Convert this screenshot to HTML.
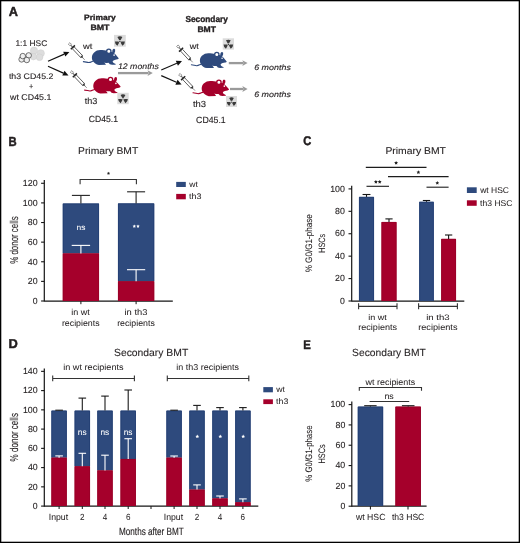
<!DOCTYPE html>
<html><head><meta charset="utf-8"><style>
html,body{margin:0;padding:0;background:#fff;}
svg{display:block;will-change:transform;}
text{font-family:"Liberation Sans", sans-serif;text-rendering:geometricPrecision;}
</style></head><body>
<svg width="520" height="543" viewBox="0 0 520 543">
<rect x="0" y="0" width="520" height="543" fill="#fff"/>
<text x="8.73" y="15.85" font-size="12.97" textLength="9.22" lengthAdjust="spacingAndGlyphs" font-weight="bold" font-style="normal" fill="#231f20" stroke="#231f20" stroke-width="0.5" stroke-linejoin="round">A</text>
<text x="15.43" y="46.00" font-size="8.21" textLength="31.84" lengthAdjust="spacingAndGlyphs" font-weight="normal" font-style="normal" fill="#231f20" stroke="#231f20" stroke-width="0.12" stroke-linejoin="round">1:1 HSC</text>
<circle cx="34" cy="50.6" r="3.6" fill="#dddddd" stroke="#cfcfcf" stroke-width="0.5"/>
<circle cx="40.8" cy="53.3" r="3.6" fill="#dddddd" stroke="#cfcfcf" stroke-width="0.5"/>
<circle cx="39.5" cy="57.2" r="3.4" fill="#dddddd" stroke="#cfcfcf" stroke-width="0.5"/>
<circle cx="33.4" cy="56.6" r="3.3" fill="#dddddd" stroke="#cfcfcf" stroke-width="0.5"/>
<circle cx="21.6" cy="59.4" r="2.75" fill="#efefef" stroke="#505050" stroke-width="0.8"/>
<circle cx="22.8" cy="56.1" r="2.75" fill="#efefef" stroke="#505050" stroke-width="0.8"/>
<circle cx="28.7" cy="55.4" r="2.75" fill="#efefef" stroke="#505050" stroke-width="0.8"/>
<circle cx="26.8" cy="60.0" r="2.75" fill="#efefef" stroke="#505050" stroke-width="0.8"/>
<text x="8.93" y="78.75" font-size="8.07" textLength="44.44" lengthAdjust="spacingAndGlyphs" font-weight="normal" font-style="normal" fill="#231f20" stroke="#231f20" stroke-width="0.12" stroke-linejoin="round">th3 CD45.2</text>
<text x="28.99" y="88.60" font-size="8.20" textLength="4.31" lengthAdjust="spacingAndGlyphs" font-weight="normal" font-style="normal" fill="#231f20" stroke="#231f20" stroke-width="0.12" stroke-linejoin="round">+</text>
<text x="10.06" y="100.00" font-size="8.43" textLength="41.31" lengthAdjust="spacingAndGlyphs" font-weight="normal" font-style="normal" fill="#231f20" stroke="#231f20" stroke-width="0.12" stroke-linejoin="round">wt CD45.1</text>
<line x1="48.00" y1="61.30" x2="64.27" y2="54.15" stroke="#111" stroke-width="1.2"/>
<path d="M69.40,51.90 L65.36,56.62 L63.19,51.68 Z" fill="#111"/>
<line x1="48.00" y1="66.30" x2="63.38" y2="73.13" stroke="#111" stroke-width="1.2"/>
<path d="M68.50,75.40 L62.29,75.60 L64.48,70.66 Z" fill="#111"/>
<text x="84.12" y="19.85" font-size="7.75" textLength="31.54" lengthAdjust="spacingAndGlyphs" font-weight="bold" font-style="normal" fill="#231f20" stroke="#231f20" stroke-width="0.35" stroke-linejoin="round">Primary</text>
<text x="90.40" y="29.85" font-size="7.61" textLength="19.12" lengthAdjust="spacingAndGlyphs" font-weight="bold" font-style="normal" fill="#231f20" stroke="#231f20" stroke-width="0.35" stroke-linejoin="round">BMT</text>
<g transform="translate(68.80,43.10) rotate(46.41) scale(1.048)" stroke="#333" fill="none">
<rect x="0.4" y="-1.0" width="2.2" height="2.0" stroke="#777" stroke-width="0.7"/>
<line x1="2.6" y1="0" x2="5.2" y2="0" stroke-width="1.0" stroke="#666"/>
<line x1="5.6" y1="-2.7" x2="5.6" y2="2.7" stroke-width="1.4" stroke="#222"/>
<rect x="6.3" y="-1.25" width="11.2" height="2.5" stroke-width="0.65" stroke="#222" fill="#fff"/>
<path d="M17.5,-1.25 L19.2,0 L17.5,1.25 Z" fill="#222" stroke-width="0.4"/>
<line x1="19.2" y1="0" x2="22" y2="0" stroke-width="0.5"/>
</g>
<g transform="translate(70.80,71.10) rotate(46.41) scale(1.048)" stroke="#333" fill="none">
<rect x="0.4" y="-1.0" width="2.2" height="2.0" stroke="#777" stroke-width="0.7"/>
<line x1="2.6" y1="0" x2="5.2" y2="0" stroke-width="1.0" stroke="#666"/>
<line x1="5.6" y1="-2.7" x2="5.6" y2="2.7" stroke-width="1.4" stroke="#222"/>
<rect x="6.3" y="-1.25" width="11.2" height="2.5" stroke-width="0.65" stroke="#222" fill="#fff"/>
<path d="M17.5,-1.25 L19.2,0 L17.5,1.25 Z" fill="#222" stroke-width="0.4"/>
<line x1="19.2" y1="0" x2="22" y2="0" stroke-width="0.5"/>
</g>
<text x="83.06" y="48.75" font-size="8.00" textLength="9.37" lengthAdjust="spacingAndGlyphs" font-weight="normal" font-style="normal" fill="#231f20" stroke="#231f20" stroke-width="0.12" stroke-linejoin="round">wt</text>
<text x="84.72" y="103.70" font-size="8.90" textLength="12.58" lengthAdjust="spacingAndGlyphs" font-weight="normal" font-style="normal" fill="#231f20" stroke="#231f20" stroke-width="0.12" stroke-linejoin="round">th3</text>
<g transform="translate(83.40,48.45) scale(1.0)">
<path d="M10,12.6 C8.6,12.8 7.4,14.0 5.4,14.1 C3.6,14.2 2.2,13.2 0,13.2" fill="none" stroke="#2e4a7d" stroke-width="1.1" stroke-linecap="round"/>
<path d="M9.4,12.3 C8.2,10.5 8.0,6.5 10.5,4.2 C12.5,2.3 14.5,1.6 16.8,1.6 C19.5,1.6 22,2.0 24,2.6 L29,3.6 C31,4.5 33.5,7.5 35.3,9.8 C35.2,10.6 34.5,10.9 33.8,10.9 L31.2,11.5 C29.8,12 29.2,12.6 29.3,13.3 C29.8,14.3 30.6,15 32.4,15.6 L32.0,16.2 L28.6,16.3 L26.4,15.8 C25.8,15 25.4,14.6 25.0,14.4 C23.8,14.5 22.5,14.4 21.3,14.2 L20.6,13.7 C21.3,14.6 22.2,15.5 22.6,16.3 L15.5,16.5 C12.8,16 10.5,14.6 9.4,12.3 Z" fill="#2e4a7d"/>
<circle cx="25.4" cy="2.9" r="2.15" fill="#fff" stroke="#2e4a7d" stroke-width="1.3"/>
<ellipse cx="30.3" cy="2.7" rx="1.45" ry="2.4" transform="rotate(12 30.3 2.7)" fill="#2e4a7d"/>
<circle cx="30.7" cy="6.7" r="0.8" fill="#fff"/>
</g>
<g transform="translate(84.60,76.60) scale(1.02)">
<path d="M10,12.6 C8.6,12.8 7.4,14.0 5.4,14.1 C3.6,14.2 2.2,13.2 0,13.2" fill="none" stroke="#a5002b" stroke-width="1.1" stroke-linecap="round"/>
<path d="M9.4,12.3 C8.2,10.5 8.0,6.5 10.5,4.2 C12.5,2.3 14.5,1.6 16.8,1.6 C19.5,1.6 22,2.0 24,2.6 L29,3.6 C31,4.5 33.5,7.5 35.3,9.8 C35.2,10.6 34.5,10.9 33.8,10.9 L31.2,11.5 C29.8,12 29.2,12.6 29.3,13.3 C29.8,14.3 30.6,15 32.4,15.6 L32.0,16.2 L28.6,16.3 L26.4,15.8 C25.8,15 25.4,14.6 25.0,14.4 C23.8,14.5 22.5,14.4 21.3,14.2 L20.6,13.7 C21.3,14.6 22.2,15.5 22.6,16.3 L15.5,16.5 C12.8,16 10.5,14.6 9.4,12.3 Z" fill="#a5002b"/>
<circle cx="25.4" cy="2.9" r="2.15" fill="#fff" stroke="#a5002b" stroke-width="1.3"/>
<ellipse cx="30.3" cy="2.7" rx="1.45" ry="2.4" transform="rotate(12 30.3 2.7)" fill="#a5002b"/>
<circle cx="30.7" cy="6.7" r="0.8" fill="#fff"/>
</g>
<rect x="114.00" y="34.90" width="11.80" height="11.80" fill="#dcdcdc"/>
<path d="M119.25,40.26 L117.40,37.06 A5.00,5.00 0 0 1 122.40,37.06 L120.55,40.26 A1.30,1.30 0 0 0 119.25,40.26 Z" fill="#3a3a3a"/>
<path d="M121.20,41.39 L124.90,41.39 A5.00,5.00 0 0 1 122.40,45.72 L120.55,42.52 A1.30,1.30 0 0 0 121.20,41.39 Z" fill="#3a3a3a"/>
<path d="M119.25,42.52 L117.40,45.72 A5.00,5.00 0 0 1 114.90,41.39 L118.60,41.39 A1.30,1.30 0 0 0 119.25,42.52 Z" fill="#3a3a3a"/>
<circle cx="119.90" cy="41.39" r="0.70" fill="#3a3a3a"/>
<rect x="117.30" y="92.80" width="11.40" height="11.40" fill="#dcdcdc"/>
<path d="M122.37,97.98 L120.58,94.89 A4.83,4.83 0 0 1 125.42,94.89 L123.63,97.98 A1.26,1.26 0 0 0 122.37,97.98 Z" fill="#3a3a3a"/>
<path d="M124.26,99.07 L127.83,99.07 A4.83,4.83 0 0 1 125.42,103.25 L123.63,100.16 A1.26,1.26 0 0 0 124.26,99.07 Z" fill="#3a3a3a"/>
<path d="M122.37,100.16 L120.58,103.25 A4.83,4.83 0 0 1 118.17,99.07 L121.74,99.07 A1.26,1.26 0 0 0 122.37,100.16 Z" fill="#3a3a3a"/>
<circle cx="123.00" cy="99.07" r="0.68" fill="#3a3a3a"/>
<text x="88.83" y="122.30" font-size="8.86" textLength="29.20" lengthAdjust="spacingAndGlyphs" font-weight="normal" font-style="normal" fill="#231f20" stroke="#231f20" stroke-width="0.12" stroke-linejoin="round">CD45.1</text>
<text x="117.94" y="69.00" font-size="8.14" textLength="40.92" lengthAdjust="spacingAndGlyphs" font-weight="normal" font-style="italic" fill="#231f20" stroke="#231f20" stroke-width="0.12" stroke-linejoin="round">12 months</text>
<line x1="118.00" y1="73.10" x2="148.50" y2="73.10" stroke="#9a9a9a" stroke-width="2.3"/>
<path d="M152.8,73.1 L147.5,70.2 L148.8,73.1 L147.5,76 Z" fill="#9a9a9a"/>
<line x1="161.25" y1="70.00" x2="176.86" y2="63.23" stroke="#111" stroke-width="1.2"/>
<path d="M182.00,61.00 L177.94,65.71 L175.79,60.75 Z" fill="#111"/>
<line x1="161.25" y1="75.60" x2="176.46" y2="82.18" stroke="#111" stroke-width="1.2"/>
<path d="M181.60,84.40 L175.39,84.66 L177.53,79.70 Z" fill="#111"/>
<text x="185.43" y="22.40" font-size="8.70" textLength="42.47" lengthAdjust="spacingAndGlyphs" font-weight="bold" font-style="normal" fill="#231f20" stroke="#231f20" stroke-width="0.35" stroke-linejoin="round">Secondary</text>
<text x="197.42" y="32.40" font-size="7.97" textLength="18.50" lengthAdjust="spacingAndGlyphs" font-weight="bold" font-style="normal" fill="#231f20" stroke="#231f20" stroke-width="0.35" stroke-linejoin="round">BMT</text>
<g transform="translate(177.10,45.40) rotate(47.29) scale(1.045)" stroke="#333" fill="none">
<rect x="0.4" y="-1.0" width="2.2" height="2.0" stroke="#777" stroke-width="0.7"/>
<line x1="2.6" y1="0" x2="5.2" y2="0" stroke-width="1.0" stroke="#666"/>
<line x1="5.6" y1="-2.7" x2="5.6" y2="2.7" stroke-width="1.4" stroke="#222"/>
<rect x="6.3" y="-1.25" width="11.2" height="2.5" stroke-width="0.65" stroke="#222" fill="#fff"/>
<path d="M17.5,-1.25 L19.2,0 L17.5,1.25 Z" fill="#222" stroke-width="0.4"/>
<line x1="19.2" y1="0" x2="22" y2="0" stroke-width="0.5"/>
</g>
<g transform="translate(179.10,73.90) rotate(46.41) scale(1.048)" stroke="#333" fill="none">
<rect x="0.4" y="-1.0" width="2.2" height="2.0" stroke="#777" stroke-width="0.7"/>
<line x1="2.6" y1="0" x2="5.2" y2="0" stroke-width="1.0" stroke="#666"/>
<line x1="5.6" y1="-2.7" x2="5.6" y2="2.7" stroke-width="1.4" stroke="#222"/>
<rect x="6.3" y="-1.25" width="11.2" height="2.5" stroke-width="0.65" stroke="#222" fill="#fff"/>
<path d="M17.5,-1.25 L19.2,0 L17.5,1.25 Z" fill="#222" stroke-width="0.4"/>
<line x1="19.2" y1="0" x2="22" y2="0" stroke-width="0.5"/>
</g>
<text x="189.81" y="48.75" font-size="8.20" textLength="8.97" lengthAdjust="spacingAndGlyphs" font-weight="normal" font-style="normal" fill="#231f20" stroke="#231f20" stroke-width="0.12" stroke-linejoin="round">wt</text>
<text x="192.92" y="106.80" font-size="8.90" textLength="13.10" lengthAdjust="spacingAndGlyphs" font-weight="normal" font-style="normal" fill="#231f20" stroke="#231f20" stroke-width="0.12" stroke-linejoin="round">th3</text>
<g transform="translate(191.40,51.60) scale(1.0)">
<path d="M10,12.6 C8.6,12.8 7.4,14.0 5.4,14.1 C3.6,14.2 2.2,13.2 0,13.2" fill="none" stroke="#2e4a7d" stroke-width="1.1" stroke-linecap="round"/>
<path d="M9.4,12.3 C8.2,10.5 8.0,6.5 10.5,4.2 C12.5,2.3 14.5,1.6 16.8,1.6 C19.5,1.6 22,2.0 24,2.6 L29,3.6 C31,4.5 33.5,7.5 35.3,9.8 C35.2,10.6 34.5,10.9 33.8,10.9 L31.2,11.5 C29.8,12 29.2,12.6 29.3,13.3 C29.8,14.3 30.6,15 32.4,15.6 L32.0,16.2 L28.6,16.3 L26.4,15.8 C25.8,15 25.4,14.6 25.0,14.4 C23.8,14.5 22.5,14.4 21.3,14.2 L20.6,13.7 C21.3,14.6 22.2,15.5 22.6,16.3 L15.5,16.5 C12.8,16 10.5,14.6 9.4,12.3 Z" fill="#2e4a7d"/>
<circle cx="25.4" cy="2.9" r="2.15" fill="#fff" stroke="#2e4a7d" stroke-width="1.3"/>
<ellipse cx="30.3" cy="2.7" rx="1.45" ry="2.4" transform="rotate(12 30.3 2.7)" fill="#2e4a7d"/>
<circle cx="30.7" cy="6.7" r="0.8" fill="#fff"/>
</g>
<g transform="translate(193.00,79.30) scale(1.02)">
<path d="M10,12.6 C8.6,12.8 7.4,14.0 5.4,14.1 C3.6,14.2 2.2,13.2 0,13.2" fill="none" stroke="#a5002b" stroke-width="1.1" stroke-linecap="round"/>
<path d="M9.4,12.3 C8.2,10.5 8.0,6.5 10.5,4.2 C12.5,2.3 14.5,1.6 16.8,1.6 C19.5,1.6 22,2.0 24,2.6 L29,3.6 C31,4.5 33.5,7.5 35.3,9.8 C35.2,10.6 34.5,10.9 33.8,10.9 L31.2,11.5 C29.8,12 29.2,12.6 29.3,13.3 C29.8,14.3 30.6,15 32.4,15.6 L32.0,16.2 L28.6,16.3 L26.4,15.8 C25.8,15 25.4,14.6 25.0,14.4 C23.8,14.5 22.5,14.4 21.3,14.2 L20.6,13.7 C21.3,14.6 22.2,15.5 22.6,16.3 L15.5,16.5 C12.8,16 10.5,14.6 9.4,12.3 Z" fill="#a5002b"/>
<circle cx="25.4" cy="2.9" r="2.15" fill="#fff" stroke="#a5002b" stroke-width="1.3"/>
<ellipse cx="30.3" cy="2.7" rx="1.45" ry="2.4" transform="rotate(12 30.3 2.7)" fill="#a5002b"/>
<circle cx="30.7" cy="6.7" r="0.8" fill="#fff"/>
</g>
<rect x="222.70" y="38.30" width="11.30" height="11.30" fill="#dcdcdc"/>
<path d="M227.73,43.44 L225.96,40.37 A4.79,4.79 0 0 1 230.74,40.37 L228.97,43.44 A1.24,1.24 0 0 0 227.73,43.44 Z" fill="#3a3a3a"/>
<path d="M229.59,44.52 L233.14,44.52 A4.79,4.79 0 0 1 230.74,48.66 L228.97,45.59 A1.24,1.24 0 0 0 229.59,44.52 Z" fill="#3a3a3a"/>
<path d="M227.73,45.59 L225.96,48.66 A4.79,4.79 0 0 1 223.56,44.52 L227.11,44.52 A1.24,1.24 0 0 0 227.73,45.59 Z" fill="#3a3a3a"/>
<circle cx="228.35" cy="44.52" r="0.67" fill="#3a3a3a"/>
<rect x="226.00" y="96.00" width="11.00" height="11.00" fill="#dcdcdc"/>
<path d="M230.89,101.00 L229.17,98.01 A4.66,4.66 0 0 1 233.83,98.01 L232.11,101.00 A1.21,1.21 0 0 0 230.89,101.00 Z" fill="#3a3a3a"/>
<path d="M232.71,102.05 L236.16,102.05 A4.66,4.66 0 0 1 233.83,106.09 L232.11,103.10 A1.21,1.21 0 0 0 232.71,102.05 Z" fill="#3a3a3a"/>
<path d="M230.89,103.10 L229.17,106.09 A4.66,4.66 0 0 1 226.84,102.05 L230.29,102.05 A1.21,1.21 0 0 0 230.89,103.10 Z" fill="#3a3a3a"/>
<circle cx="231.50" cy="102.05" r="0.65" fill="#3a3a3a"/>
<text x="196.12" y="122.70" font-size="9.00" textLength="29.62" lengthAdjust="spacingAndGlyphs" font-weight="normal" font-style="normal" fill="#231f20" stroke="#231f20" stroke-width="0.12" stroke-linejoin="round">CD45.1</text>
<line x1="228.80" y1="63.10" x2="243.50" y2="63.10" stroke="#9a9a9a" stroke-width="2.3"/>
<path d="M247.6,63.1 L242.3,60.2 L243.6,63.1 L242.3,66.0 Z" fill="#9a9a9a"/>
<line x1="230.00" y1="89.00" x2="243.50" y2="89.00" stroke="#9a9a9a" stroke-width="2.3"/>
<path d="M247.6,89.0 L242.3,86.1 L243.6,89.0 L242.3,91.9 Z" fill="#9a9a9a"/>
<text x="254.17" y="70.00" font-size="7.72" textLength="36.74" lengthAdjust="spacingAndGlyphs" font-weight="normal" font-style="italic" fill="#231f20" stroke="#231f20" stroke-width="0.12" stroke-linejoin="round">6 months</text>
<text x="254.17" y="96.50" font-size="7.72" textLength="36.74" lengthAdjust="spacingAndGlyphs" font-weight="normal" font-style="italic" fill="#231f20" stroke="#231f20" stroke-width="0.12" stroke-linejoin="round">6 months</text>
<text x="8.51" y="145.90" font-size="13.04" textLength="8.17" lengthAdjust="spacingAndGlyphs" font-weight="bold" font-style="normal" fill="#231f20" stroke="#231f20" stroke-width="0.5" stroke-linejoin="round">B</text>
<text x="78.02" y="153.90" font-size="9.71" textLength="60.27" lengthAdjust="spacingAndGlyphs" font-weight="normal" font-style="normal" fill="#231f20" stroke="#231f20" stroke-width="0.1" stroke-linejoin="round">Primary BMT</text>
<line x1="44.30" y1="180.00" x2="44.30" y2="301.60" stroke="#141414" stroke-width="1.2"/>
<line x1="41.10" y1="301.00" x2="44.30" y2="301.00" stroke="#141414" stroke-width="1.1"/>
<text x="32.73" y="303.75" font-size="8.90" textLength="4.83" lengthAdjust="spacingAndGlyphs" font-weight="normal" font-style="normal" fill="#231f20" stroke="#231f20" stroke-width="0.1" stroke-linejoin="round">0</text>
<line x1="41.10" y1="281.38" x2="44.30" y2="281.38" stroke="#141414" stroke-width="1.1"/>
<text x="27.79" y="284.13" font-size="8.90" textLength="9.79" lengthAdjust="spacingAndGlyphs" font-weight="normal" font-style="normal" fill="#231f20" stroke="#231f20" stroke-width="0.1" stroke-linejoin="round">20</text>
<line x1="41.10" y1="261.76" x2="44.30" y2="261.76" stroke="#141414" stroke-width="1.1"/>
<text x="27.78" y="264.51" font-size="8.90" textLength="9.79" lengthAdjust="spacingAndGlyphs" font-weight="normal" font-style="normal" fill="#231f20" stroke="#231f20" stroke-width="0.1" stroke-linejoin="round">40</text>
<line x1="41.10" y1="242.14" x2="44.30" y2="242.14" stroke="#141414" stroke-width="1.1"/>
<text x="27.79" y="244.89" font-size="8.90" textLength="9.79" lengthAdjust="spacingAndGlyphs" font-weight="normal" font-style="normal" fill="#231f20" stroke="#231f20" stroke-width="0.1" stroke-linejoin="round">60</text>
<line x1="41.10" y1="222.52" x2="44.30" y2="222.52" stroke="#141414" stroke-width="1.1"/>
<text x="27.79" y="225.27" font-size="8.90" textLength="9.79" lengthAdjust="spacingAndGlyphs" font-weight="normal" font-style="normal" fill="#231f20" stroke="#231f20" stroke-width="0.1" stroke-linejoin="round">80</text>
<line x1="41.10" y1="202.90" x2="44.30" y2="202.90" stroke="#141414" stroke-width="1.1"/>
<text x="22.85" y="205.65" font-size="8.90" textLength="14.74" lengthAdjust="spacingAndGlyphs" font-weight="normal" font-style="normal" fill="#231f20" stroke="#231f20" stroke-width="0.1" stroke-linejoin="round">100</text>
<line x1="41.10" y1="183.28" x2="44.30" y2="183.28" stroke="#141414" stroke-width="1.1"/>
<text x="22.85" y="186.03" font-size="8.90" textLength="14.74" lengthAdjust="spacingAndGlyphs" font-weight="normal" font-style="normal" fill="#231f20" stroke="#231f20" stroke-width="0.1" stroke-linejoin="round">120</text>
<line x1="44.30" y1="301.20" x2="172.80" y2="301.20" stroke="#141414" stroke-width="1.2"/>
<line x1="80.90" y1="301.20" x2="80.90" y2="304.20" stroke="#141414" stroke-width="1.0"/>
<line x1="136.10" y1="301.20" x2="136.10" y2="304.20" stroke="#141414" stroke-width="1.0"/>
<rect x="62.80" y="203.50" width="36.20" height="49.90" fill="#2e4a7d"/>
<path d="M63.20,253.40 L63.20,203.90 L98.60,203.90 L98.60,253.40" fill="none" stroke="#223d72" stroke-width="0.8"/>
<rect x="62.80" y="253.40" width="36.20" height="47.60" fill="#a5002b"/>
<path d="M63.20,301.00 L63.20,253.80 L98.60,253.80 L98.60,301.00" fill="none" stroke="#970027" stroke-width="0.8"/>
<rect x="118.00" y="203.40" width="36.20" height="77.80" fill="#2e4a7d"/>
<path d="M118.40,281.20 L118.40,203.80 L153.80,203.80 L153.80,281.20" fill="none" stroke="#223d72" stroke-width="0.8"/>
<rect x="118.00" y="281.20" width="36.20" height="19.80" fill="#a5002b"/>
<path d="M118.40,301.00 L118.40,281.60 L153.80,281.60 L153.80,301.00" fill="none" stroke="#970027" stroke-width="0.8"/>
<line x1="80.90" y1="195.40" x2="80.90" y2="203.50" stroke="#222" stroke-width="1.1"/>
<line x1="71.90" y1="195.40" x2="89.90" y2="195.40" stroke="#222" stroke-width="1.1"/>
<line x1="136.10" y1="191.80" x2="136.10" y2="203.40" stroke="#222" stroke-width="1.1"/>
<line x1="127.10" y1="191.80" x2="145.10" y2="191.80" stroke="#222" stroke-width="1.1"/>
<line x1="80.90" y1="245.40" x2="80.90" y2="253.40" stroke="#fff" stroke-width="1.1"/>
<line x1="71.70" y1="245.40" x2="90.10" y2="245.40" stroke="#fff" stroke-width="1.1"/>
<line x1="136.10" y1="269.70" x2="136.10" y2="281.20" stroke="#fff" stroke-width="1.1"/>
<line x1="127.00" y1="269.70" x2="145.20" y2="269.70" stroke="#fff" stroke-width="1.1"/>
<path d="M80.1,184.2 L80.1,179.5 L136.4,179.5 L136.4,184.2" fill="none" stroke="#333" stroke-width="1.1"/>
<polygon points="108.50,171.70 109.00,172.71 110.12,172.87 109.31,173.66 109.50,174.78 108.50,174.25 107.50,174.78 107.69,173.66 106.88,172.87 108.00,172.71" fill="#222"/>
<text x="76.47" y="230.40" font-size="7.80" textLength="8.91" lengthAdjust="spacingAndGlyphs" font-weight="normal" font-style="normal" fill="#fff" stroke="#fff" stroke-width="0.04" stroke-linejoin="round">ns</text>
<polygon points="134.30,224.50 134.83,225.57 136.01,225.74 135.16,226.58 135.36,227.76 134.30,227.20 133.24,227.76 133.44,226.58 132.59,225.74 133.77,225.57" fill="#fff"/>
<polygon points="138.00,224.50 138.53,225.57 139.71,225.74 138.86,226.58 139.06,227.76 138.00,227.20 136.94,227.76 137.14,226.58 136.29,225.74 137.47,225.57" fill="#fff"/>
<rect x="176.20" y="181.90" width="9.60" height="5.10" fill="#2e4a7d"/>
<rect x="176.20" y="193.90" width="9.60" height="5.40" fill="#a5002b"/>
<text x="189.22" y="187.00" font-size="8.20" textLength="8.55" lengthAdjust="spacingAndGlyphs" font-weight="normal" font-style="normal" fill="#231f20" stroke="#231f20" stroke-width="0.04" stroke-linejoin="round">wt</text>
<text x="189.09" y="199.30" font-size="8.20" textLength="12.45" lengthAdjust="spacingAndGlyphs" font-weight="normal" font-style="normal" fill="#231f20" stroke="#231f20" stroke-width="0.04" stroke-linejoin="round">th3</text>
<text transform="translate(17.50,263.55) rotate(-90)" x="-0.28" y="0" font-size="11.30" textLength="47.54" lengthAdjust="spacingAndGlyphs" font-weight="normal" font-style="normal" fill="#231f20" stroke="#231f20" stroke-width="0.1" stroke-linejoin="round">% donor cells</text>
<text x="71.39" y="315.00" font-size="8.55" textLength="18.50" lengthAdjust="spacingAndGlyphs" font-weight="normal" font-style="normal" fill="#231f20" stroke="#231f20" stroke-width="0.04" stroke-linejoin="round">in wt</text>
<text x="61.95" y="325.60" font-size="8.60" textLength="37.64" lengthAdjust="spacingAndGlyphs" font-weight="normal" font-style="normal" fill="#231f20" stroke="#231f20" stroke-width="0.04" stroke-linejoin="round">recipients</text>
<text x="124.56" y="315.00" font-size="8.55" textLength="22.85" lengthAdjust="spacingAndGlyphs" font-weight="normal" font-style="normal" fill="#231f20" stroke="#231f20" stroke-width="0.04" stroke-linejoin="round">in th3</text>
<text x="117.15" y="325.60" font-size="8.60" textLength="37.64" lengthAdjust="spacingAndGlyphs" font-weight="normal" font-style="normal" fill="#231f20" stroke="#231f20" stroke-width="0.04" stroke-linejoin="round">recipients</text>
<text x="303.30" y="144.90" font-size="12.61" textLength="8.05" lengthAdjust="spacingAndGlyphs" font-weight="bold" font-style="normal" fill="#231f20" stroke="#231f20" stroke-width="0.5" stroke-linejoin="round">C</text>
<text x="385.42" y="153.90" font-size="9.71" textLength="60.57" lengthAdjust="spacingAndGlyphs" font-weight="normal" font-style="normal" fill="#231f20" stroke="#231f20" stroke-width="0.1" stroke-linejoin="round">Primary BMT</text>
<line x1="351.70" y1="185.80" x2="351.70" y2="301.50" stroke="#141414" stroke-width="1.2"/>
<line x1="348.50" y1="301.00" x2="351.70" y2="301.00" stroke="#141414" stroke-width="1.1"/>
<text x="340.03" y="303.75" font-size="8.90" textLength="4.83" lengthAdjust="spacingAndGlyphs" font-weight="normal" font-style="normal" fill="#231f20" stroke="#231f20" stroke-width="0.1" stroke-linejoin="round">0</text>
<line x1="348.50" y1="278.58" x2="351.70" y2="278.58" stroke="#141414" stroke-width="1.1"/>
<text x="335.09" y="281.33" font-size="8.90" textLength="9.79" lengthAdjust="spacingAndGlyphs" font-weight="normal" font-style="normal" fill="#231f20" stroke="#231f20" stroke-width="0.1" stroke-linejoin="round">20</text>
<line x1="348.50" y1="256.16" x2="351.70" y2="256.16" stroke="#141414" stroke-width="1.1"/>
<text x="335.08" y="258.91" font-size="8.90" textLength="9.79" lengthAdjust="spacingAndGlyphs" font-weight="normal" font-style="normal" fill="#231f20" stroke="#231f20" stroke-width="0.1" stroke-linejoin="round">40</text>
<line x1="348.50" y1="233.74" x2="351.70" y2="233.74" stroke="#141414" stroke-width="1.1"/>
<text x="335.09" y="236.49" font-size="8.90" textLength="9.79" lengthAdjust="spacingAndGlyphs" font-weight="normal" font-style="normal" fill="#231f20" stroke="#231f20" stroke-width="0.1" stroke-linejoin="round">60</text>
<line x1="348.50" y1="211.32" x2="351.70" y2="211.32" stroke="#141414" stroke-width="1.1"/>
<text x="335.09" y="214.07" font-size="8.90" textLength="9.79" lengthAdjust="spacingAndGlyphs" font-weight="normal" font-style="normal" fill="#231f20" stroke="#231f20" stroke-width="0.1" stroke-linejoin="round">80</text>
<line x1="348.50" y1="188.90" x2="351.70" y2="188.90" stroke="#141414" stroke-width="1.1"/>
<text x="330.15" y="191.65" font-size="8.90" textLength="14.74" lengthAdjust="spacingAndGlyphs" font-weight="normal" font-style="normal" fill="#231f20" stroke="#231f20" stroke-width="0.1" stroke-linejoin="round">100</text>
<line x1="351.70" y1="301.20" x2="464.30" y2="301.20" stroke="#141414" stroke-width="1.2"/>
<rect x="359.00" y="196.90" width="15.00" height="104.10" fill="#2e4a7d"/>
<path d="M359.40,301.00 L359.40,197.30 L373.60,197.30 L373.60,301.00" fill="none" stroke="#223d72" stroke-width="0.8"/>
<line x1="366.50" y1="194.50" x2="366.50" y2="196.90" stroke="#151515" stroke-width="1.1"/>
<line x1="362.55" y1="194.50" x2="370.45" y2="194.50" stroke="#151515" stroke-width="1.1"/>
<rect x="381.50" y="222.00" width="15.00" height="79.00" fill="#a5002b"/>
<path d="M381.90,301.00 L381.90,222.40 L396.10,222.40 L396.10,301.00" fill="none" stroke="#970027" stroke-width="0.8"/>
<line x1="389.00" y1="218.90" x2="389.00" y2="222.00" stroke="#151515" stroke-width="1.1"/>
<line x1="385.40" y1="218.90" x2="392.60" y2="218.90" stroke="#151515" stroke-width="1.1"/>
<rect x="419.20" y="201.80" width="14.60" height="99.20" fill="#2e4a7d"/>
<path d="M419.60,301.00 L419.60,202.20 L433.40,202.20 L433.40,301.00" fill="none" stroke="#223d72" stroke-width="0.8"/>
<line x1="426.50" y1="200.50" x2="426.50" y2="201.80" stroke="#151515" stroke-width="1.1"/>
<line x1="422.85" y1="200.50" x2="430.15" y2="200.50" stroke="#151515" stroke-width="1.1"/>
<rect x="441.20" y="238.90" width="14.80" height="62.10" fill="#a5002b"/>
<path d="M441.60,301.00 L441.60,239.30 L455.60,239.30 L455.60,301.00" fill="none" stroke="#970027" stroke-width="0.8"/>
<line x1="448.60" y1="235.00" x2="448.60" y2="238.90" stroke="#151515" stroke-width="1.1"/>
<line x1="444.95" y1="235.00" x2="452.25" y2="235.00" stroke="#151515" stroke-width="1.1"/>
<line x1="365.80" y1="167.40" x2="426.50" y2="167.40" stroke="#1c1c1c" stroke-width="1.1"/>
<polygon points="396.10,160.90 396.69,162.09 398.00,162.28 397.05,163.21 397.28,164.52 396.10,163.90 394.92,164.52 395.15,163.21 394.20,162.28 395.51,162.09" fill="#222"/>
<line x1="388.00" y1="176.60" x2="448.60" y2="176.60" stroke="#1c1c1c" stroke-width="1.1"/>
<polygon points="418.40,170.30 418.99,171.49 420.30,171.68 419.35,172.61 419.58,173.92 418.40,173.30 417.22,173.92 417.45,172.61 416.50,171.68 417.81,171.49" fill="#222"/>
<line x1="366.50" y1="186.30" x2="389.00" y2="186.30" stroke="#1c1c1c" stroke-width="1.1"/>
<polygon points="375.90,179.90 376.49,181.09 377.80,181.28 376.85,182.21 377.08,183.52 375.90,182.90 374.72,183.52 374.95,182.21 374.00,181.28 375.31,181.09" fill="#222"/>
<polygon points="379.70,179.90 380.29,181.09 381.60,181.28 380.65,182.21 380.88,183.52 379.70,182.90 378.52,183.52 378.75,182.21 377.80,181.28 379.11,181.09" fill="#222"/>
<line x1="426.50" y1="187.20" x2="448.60" y2="187.20" stroke="#1c1c1c" stroke-width="1.1"/>
<polygon points="437.30,181.00 437.89,182.19 439.20,182.38 438.25,183.31 438.48,184.62 437.30,184.00 436.12,184.62 436.35,183.31 435.40,182.38 436.71,182.19" fill="#222"/>
<rect x="466.90" y="187.30" width="9.80" height="5.70" fill="#2e4a7d"/>
<rect x="466.90" y="200.30" width="9.80" height="5.50" fill="#a5002b"/>
<text x="480.22" y="193.00" font-size="8.40" textLength="28.79" lengthAdjust="spacingAndGlyphs" font-weight="normal" font-style="normal" fill="#231f20" stroke="#231f20" stroke-width="0.04" stroke-linejoin="round">wt HSC</text>
<text x="480.09" y="205.80" font-size="8.40" textLength="32.43" lengthAdjust="spacingAndGlyphs" font-weight="normal" font-style="normal" fill="#231f20" stroke="#231f20" stroke-width="0.04" stroke-linejoin="round">th3 HSC</text>
<text transform="translate(312.00,272.06) rotate(-90)" x="-0.28" y="0" font-size="9.42" textLength="58.07" lengthAdjust="spacingAndGlyphs" font-weight="normal" font-style="normal" fill="#231f20" stroke="#231f20" stroke-width="0.08" stroke-linejoin="round">% G0/G1-phase</text>
<text transform="translate(324.50,252.16) rotate(-90)" x="-0.58" y="0" font-size="9.13" textLength="18.97" lengthAdjust="spacingAndGlyphs" font-weight="normal" font-style="normal" fill="#231f20" stroke="#231f20" stroke-width="0.08" stroke-linejoin="round">HSCs</text>
<path d="M358.6,303.3 L358.6,309.3 M358.6,306.4 L397.0,306.4 M397.0,303.3 L397.0,309.3" fill="none" stroke="#333" stroke-width="1.1"/>
<path d="M418.6,303.3 L418.6,309.3 M418.6,306.4 L457.4,306.4 M457.4,303.3 L457.4,309.3" fill="none" stroke="#333" stroke-width="1.1"/>
<text x="368.23" y="319.90" font-size="7.86" textLength="18.60" lengthAdjust="spacingAndGlyphs" font-weight="normal" font-style="normal" fill="#231f20" stroke="#231f20" stroke-width="0.04" stroke-linejoin="round">in wt</text>
<text x="358.23" y="330.20" font-size="8.50" textLength="38.87" lengthAdjust="spacingAndGlyphs" font-weight="normal" font-style="normal" fill="#231f20" stroke="#231f20" stroke-width="0.04" stroke-linejoin="round">recipients</text>
<text x="426.20" y="319.90" font-size="7.86" textLength="23.38" lengthAdjust="spacingAndGlyphs" font-weight="normal" font-style="normal" fill="#231f20" stroke="#231f20" stroke-width="0.04" stroke-linejoin="round">in th3</text>
<text x="418.17" y="330.20" font-size="8.50" textLength="39.38" lengthAdjust="spacingAndGlyphs" font-weight="normal" font-style="normal" fill="#231f20" stroke="#231f20" stroke-width="0.04" stroke-linejoin="round">recipients</text>
<text x="8.52" y="348.20" font-size="12.90" textLength="9.28" lengthAdjust="spacingAndGlyphs" font-weight="bold" font-style="normal" fill="#231f20" stroke="#231f20" stroke-width="0.5" stroke-linejoin="round">D</text>
<text x="113.98" y="356.30" font-size="10.29" textLength="74.27" lengthAdjust="spacingAndGlyphs" font-weight="normal" font-style="normal" fill="#231f20" stroke="#231f20" stroke-width="0.1" stroke-linejoin="round">Secondary BMT</text>
<line x1="44.30" y1="368.50" x2="44.30" y2="506.70" stroke="#141414" stroke-width="1.2"/>
<line x1="41.10" y1="506.10" x2="44.30" y2="506.10" stroke="#141414" stroke-width="1.1"/>
<text x="32.83" y="508.85" font-size="8.90" textLength="4.83" lengthAdjust="spacingAndGlyphs" font-weight="normal" font-style="normal" fill="#231f20" stroke="#231f20" stroke-width="0.1" stroke-linejoin="round">0</text>
<line x1="41.10" y1="486.85" x2="44.30" y2="486.85" stroke="#141414" stroke-width="1.1"/>
<text x="27.89" y="489.60" font-size="8.90" textLength="9.79" lengthAdjust="spacingAndGlyphs" font-weight="normal" font-style="normal" fill="#231f20" stroke="#231f20" stroke-width="0.1" stroke-linejoin="round">20</text>
<line x1="41.10" y1="467.60" x2="44.30" y2="467.60" stroke="#141414" stroke-width="1.1"/>
<text x="27.88" y="470.35" font-size="8.90" textLength="9.79" lengthAdjust="spacingAndGlyphs" font-weight="normal" font-style="normal" fill="#231f20" stroke="#231f20" stroke-width="0.1" stroke-linejoin="round">40</text>
<line x1="41.10" y1="448.35" x2="44.30" y2="448.35" stroke="#141414" stroke-width="1.1"/>
<text x="27.89" y="451.10" font-size="8.90" textLength="9.79" lengthAdjust="spacingAndGlyphs" font-weight="normal" font-style="normal" fill="#231f20" stroke="#231f20" stroke-width="0.1" stroke-linejoin="round">60</text>
<line x1="41.10" y1="429.10" x2="44.30" y2="429.10" stroke="#141414" stroke-width="1.1"/>
<text x="27.89" y="431.85" font-size="8.90" textLength="9.79" lengthAdjust="spacingAndGlyphs" font-weight="normal" font-style="normal" fill="#231f20" stroke="#231f20" stroke-width="0.1" stroke-linejoin="round">80</text>
<line x1="41.10" y1="409.85" x2="44.30" y2="409.85" stroke="#141414" stroke-width="1.1"/>
<text x="22.95" y="412.60" font-size="8.90" textLength="14.74" lengthAdjust="spacingAndGlyphs" font-weight="normal" font-style="normal" fill="#231f20" stroke="#231f20" stroke-width="0.1" stroke-linejoin="round">100</text>
<line x1="41.10" y1="390.60" x2="44.30" y2="390.60" stroke="#141414" stroke-width="1.1"/>
<text x="22.95" y="393.35" font-size="8.90" textLength="14.74" lengthAdjust="spacingAndGlyphs" font-weight="normal" font-style="normal" fill="#231f20" stroke="#231f20" stroke-width="0.1" stroke-linejoin="round">120</text>
<line x1="41.10" y1="371.35" x2="44.30" y2="371.35" stroke="#141414" stroke-width="1.1"/>
<text x="22.95" y="374.10" font-size="8.90" textLength="14.74" lengthAdjust="spacingAndGlyphs" font-weight="normal" font-style="normal" fill="#231f20" stroke="#231f20" stroke-width="0.1" stroke-linejoin="round">140</text>
<line x1="44.30" y1="506.20" x2="258.30" y2="506.20" stroke="#141414" stroke-width="1.2"/>
<rect x="51.40" y="410.60" width="15.40" height="47.10" fill="#2e4a7d"/>
<path d="M51.80,457.70 L51.80,411.00 L66.40,411.00 L66.40,457.70" fill="none" stroke="#223d72" stroke-width="0.8"/>
<rect x="51.40" y="457.70" width="15.40" height="48.30" fill="#a5002b"/>
<path d="M51.80,506.00 L51.80,458.10 L66.40,458.10 L66.40,506.00" fill="none" stroke="#970027" stroke-width="0.8"/>
<line x1="59.10" y1="410.20" x2="59.10" y2="410.60" stroke="#1a1a1a" stroke-width="1.1"/>
<line x1="55.30" y1="410.20" x2="62.90" y2="410.20" stroke="#1a1a1a" stroke-width="1.1"/>
<line x1="59.10" y1="455.90" x2="59.10" y2="457.70" stroke="#fff" stroke-width="1.1"/>
<line x1="55.30" y1="455.90" x2="62.90" y2="455.90" stroke="#fff" stroke-width="1.1"/>
<rect x="74.60" y="410.60" width="15.40" height="55.60" fill="#2e4a7d"/>
<path d="M75.00,466.20 L75.00,411.00 L89.60,411.00 L89.60,466.20" fill="none" stroke="#223d72" stroke-width="0.8"/>
<rect x="74.60" y="466.20" width="15.40" height="39.80" fill="#a5002b"/>
<path d="M75.00,506.00 L75.00,466.60 L89.60,466.60 L89.60,506.00" fill="none" stroke="#970027" stroke-width="0.8"/>
<line x1="82.30" y1="398.10" x2="82.30" y2="410.60" stroke="#1a1a1a" stroke-width="1.1"/>
<line x1="78.50" y1="398.10" x2="86.10" y2="398.10" stroke="#1a1a1a" stroke-width="1.1"/>
<line x1="82.30" y1="453.30" x2="82.30" y2="466.20" stroke="#fff" stroke-width="1.1"/>
<line x1="78.50" y1="453.30" x2="86.10" y2="453.30" stroke="#fff" stroke-width="1.1"/>
<rect x="97.30" y="410.60" width="15.40" height="59.80" fill="#2e4a7d"/>
<path d="M97.70,470.40 L97.70,411.00 L112.30,411.00 L112.30,470.40" fill="none" stroke="#223d72" stroke-width="0.8"/>
<rect x="97.30" y="470.40" width="15.40" height="35.60" fill="#a5002b"/>
<path d="M97.70,506.00 L97.70,470.80 L112.30,470.80 L112.30,506.00" fill="none" stroke="#970027" stroke-width="0.8"/>
<line x1="105.00" y1="396.10" x2="105.00" y2="410.60" stroke="#1a1a1a" stroke-width="1.1"/>
<line x1="101.20" y1="396.10" x2="108.80" y2="396.10" stroke="#1a1a1a" stroke-width="1.1"/>
<line x1="105.00" y1="455.20" x2="105.00" y2="470.40" stroke="#fff" stroke-width="1.1"/>
<line x1="101.20" y1="455.20" x2="108.80" y2="455.20" stroke="#fff" stroke-width="1.1"/>
<rect x="120.50" y="410.60" width="15.40" height="48.40" fill="#2e4a7d"/>
<path d="M120.90,459.00 L120.90,411.00 L135.50,411.00 L135.50,459.00" fill="none" stroke="#223d72" stroke-width="0.8"/>
<rect x="120.50" y="459.00" width="15.40" height="47.00" fill="#a5002b"/>
<path d="M120.90,506.00 L120.90,459.40 L135.50,459.40 L135.50,506.00" fill="none" stroke="#970027" stroke-width="0.8"/>
<line x1="128.20" y1="390.00" x2="128.20" y2="410.60" stroke="#1a1a1a" stroke-width="1.1"/>
<line x1="124.40" y1="390.00" x2="132.00" y2="390.00" stroke="#1a1a1a" stroke-width="1.1"/>
<line x1="128.20" y1="438.70" x2="128.20" y2="459.00" stroke="#fff" stroke-width="1.1"/>
<line x1="124.40" y1="438.70" x2="132.00" y2="438.70" stroke="#fff" stroke-width="1.1"/>
<rect x="166.40" y="410.60" width="15.40" height="47.10" fill="#2e4a7d"/>
<path d="M166.80,457.70 L166.80,411.00 L181.40,411.00 L181.40,457.70" fill="none" stroke="#223d72" stroke-width="0.8"/>
<rect x="166.40" y="457.70" width="15.40" height="48.30" fill="#a5002b"/>
<path d="M166.80,506.00 L166.80,458.10 L181.40,458.10 L181.40,506.00" fill="none" stroke="#970027" stroke-width="0.8"/>
<line x1="174.10" y1="410.20" x2="174.10" y2="410.60" stroke="#1a1a1a" stroke-width="1.1"/>
<line x1="170.30" y1="410.20" x2="177.90" y2="410.20" stroke="#1a1a1a" stroke-width="1.1"/>
<line x1="174.10" y1="456.00" x2="174.10" y2="457.70" stroke="#fff" stroke-width="1.1"/>
<line x1="170.30" y1="456.00" x2="177.90" y2="456.00" stroke="#fff" stroke-width="1.1"/>
<rect x="189.30" y="410.60" width="15.40" height="79.00" fill="#2e4a7d"/>
<path d="M189.70,489.60 L189.70,411.00 L204.30,411.00 L204.30,489.60" fill="none" stroke="#223d72" stroke-width="0.8"/>
<rect x="189.30" y="489.60" width="15.40" height="16.40" fill="#a5002b"/>
<path d="M189.70,506.00 L189.70,490.00 L204.30,490.00 L204.30,506.00" fill="none" stroke="#970027" stroke-width="0.8"/>
<line x1="197.00" y1="405.40" x2="197.00" y2="410.60" stroke="#1a1a1a" stroke-width="1.1"/>
<line x1="193.20" y1="405.40" x2="200.80" y2="405.40" stroke="#1a1a1a" stroke-width="1.1"/>
<line x1="197.00" y1="484.90" x2="197.00" y2="489.60" stroke="#fff" stroke-width="1.1"/>
<line x1="193.20" y1="484.90" x2="200.80" y2="484.90" stroke="#fff" stroke-width="1.1"/>
<rect x="212.30" y="410.60" width="15.40" height="87.80" fill="#2e4a7d"/>
<path d="M212.70,498.40 L212.70,411.00 L227.30,411.00 L227.30,498.40" fill="none" stroke="#223d72" stroke-width="0.8"/>
<rect x="212.30" y="498.40" width="15.40" height="7.60" fill="#a5002b"/>
<path d="M212.70,506.00 L212.70,498.80 L227.30,498.80 L227.30,506.00" fill="none" stroke="#970027" stroke-width="0.8"/>
<line x1="220.00" y1="407.60" x2="220.00" y2="410.60" stroke="#1a1a1a" stroke-width="1.1"/>
<line x1="216.20" y1="407.60" x2="223.80" y2="407.60" stroke="#1a1a1a" stroke-width="1.1"/>
<line x1="220.00" y1="496.00" x2="220.00" y2="498.40" stroke="#fff" stroke-width="1.1"/>
<line x1="216.20" y1="496.00" x2="223.80" y2="496.00" stroke="#fff" stroke-width="1.1"/>
<rect x="235.20" y="410.60" width="15.40" height="91.60" fill="#2e4a7d"/>
<path d="M235.60,502.20 L235.60,411.00 L250.20,411.00 L250.20,502.20" fill="none" stroke="#223d72" stroke-width="0.8"/>
<rect x="235.20" y="502.20" width="15.40" height="3.80" fill="#a5002b"/>
<path d="M235.60,506.00 L235.60,502.60 L250.20,502.60 L250.20,506.00" fill="none" stroke="#970027" stroke-width="0.8"/>
<line x1="242.90" y1="407.60" x2="242.90" y2="410.60" stroke="#1a1a1a" stroke-width="1.1"/>
<line x1="239.10" y1="407.60" x2="246.70" y2="407.60" stroke="#1a1a1a" stroke-width="1.1"/>
<line x1="242.90" y1="498.90" x2="242.90" y2="502.20" stroke="#fff" stroke-width="1.1"/>
<line x1="239.10" y1="498.90" x2="246.70" y2="498.90" stroke="#fff" stroke-width="1.1"/>
<line x1="59.10" y1="506.20" x2="59.10" y2="509.00" stroke="#141414" stroke-width="1.0"/>
<line x1="82.30" y1="506.20" x2="82.30" y2="509.00" stroke="#141414" stroke-width="1.0"/>
<line x1="105.00" y1="506.20" x2="105.00" y2="509.00" stroke="#141414" stroke-width="1.0"/>
<line x1="128.20" y1="506.20" x2="128.20" y2="509.00" stroke="#141414" stroke-width="1.0"/>
<line x1="151.00" y1="506.20" x2="151.00" y2="509.00" stroke="#141414" stroke-width="1.0"/>
<line x1="174.10" y1="506.20" x2="174.10" y2="509.00" stroke="#141414" stroke-width="1.0"/>
<line x1="197.00" y1="506.20" x2="197.00" y2="509.00" stroke="#141414" stroke-width="1.0"/>
<line x1="220.00" y1="506.20" x2="220.00" y2="509.00" stroke="#141414" stroke-width="1.0"/>
<line x1="242.90" y1="506.20" x2="242.90" y2="509.00" stroke="#141414" stroke-width="1.0"/>
<text x="77.78" y="435.00" font-size="8.50" textLength="8.80" lengthAdjust="spacingAndGlyphs" font-weight="normal" font-style="normal" fill="#fff" stroke="#fff" stroke-width="0.04" stroke-linejoin="round">ns</text>
<text x="100.48" y="435.00" font-size="8.50" textLength="8.80" lengthAdjust="spacingAndGlyphs" font-weight="normal" font-style="normal" fill="#fff" stroke="#fff" stroke-width="0.04" stroke-linejoin="round">ns</text>
<text x="123.68" y="435.00" font-size="8.50" textLength="8.80" lengthAdjust="spacingAndGlyphs" font-weight="normal" font-style="normal" fill="#fff" stroke="#fff" stroke-width="0.04" stroke-linejoin="round">ns</text>
<polygon points="197.30,434.50 197.89,435.69 199.20,435.88 198.25,436.81 198.48,438.12 197.30,437.50 196.12,438.12 196.35,436.81 195.40,435.88 196.71,435.69" fill="#fff"/>
<polygon points="220.30,434.50 220.89,435.69 222.20,435.88 221.25,436.81 221.48,438.12 220.30,437.50 219.12,438.12 219.35,436.81 218.40,435.88 219.71,435.69" fill="#fff"/>
<polygon points="243.20,434.50 243.79,435.69 245.10,435.88 244.15,436.81 244.38,438.12 243.20,437.50 242.02,438.12 242.25,436.81 241.30,435.88 242.61,435.69" fill="#fff"/>
<path d="M52.7,375.6 L52.7,381.3 M52.7,378.5 L134.4,378.5 M134.4,375.6 L134.4,381.3" fill="none" stroke="#333" stroke-width="1.1"/>
<path d="M167.3,375.6 L167.3,381.3 M167.3,378.5 L248.8,378.5 M248.8,375.6 L248.8,381.3" fill="none" stroke="#333" stroke-width="1.1"/>
<text x="63.23" y="369.80" font-size="8.60" textLength="60.36" lengthAdjust="spacingAndGlyphs" font-weight="normal" font-style="normal" fill="#231f20" stroke="#231f20" stroke-width="0.04" stroke-linejoin="round">in wt recipients</text>
<text x="176.34" y="369.60" font-size="8.60" textLength="62.75" lengthAdjust="spacingAndGlyphs" font-weight="normal" font-style="normal" fill="#231f20" stroke="#231f20" stroke-width="0.04" stroke-linejoin="round">in th3 recipients</text>
<rect x="263.30" y="387.10" width="9.60" height="5.20" fill="#2e4a7d"/>
<rect x="263.30" y="399.30" width="9.60" height="4.80" fill="#a5002b"/>
<text x="276.22" y="392.30" font-size="8.20" textLength="8.65" lengthAdjust="spacingAndGlyphs" font-weight="normal" font-style="normal" fill="#231f20" stroke="#231f20" stroke-width="0.04" stroke-linejoin="round">wt</text>
<text x="276.09" y="404.10" font-size="8.20" textLength="12.25" lengthAdjust="spacingAndGlyphs" font-weight="normal" font-style="normal" fill="#231f20" stroke="#231f20" stroke-width="0.04" stroke-linejoin="round">th3</text>
<text transform="translate(17.50,461.15) rotate(-90)" x="-0.28" y="0" font-size="11.30" textLength="48.35" lengthAdjust="spacingAndGlyphs" font-weight="normal" font-style="normal" fill="#231f20" stroke="#231f20" stroke-width="0.1" stroke-linejoin="round">% donor cells</text>
<text x="48.77" y="520.00" font-size="8.90" textLength="19.36" lengthAdjust="spacingAndGlyphs" font-weight="normal" font-style="normal" fill="#231f20" stroke="#231f20" stroke-width="0.04" stroke-linejoin="round">Input</text>
<text x="80.05" y="520.00" font-size="8.90" textLength="4.51" lengthAdjust="spacingAndGlyphs" font-weight="normal" font-style="normal" fill="#231f20" stroke="#231f20" stroke-width="0.04" stroke-linejoin="round">2</text>
<text x="102.79" y="520.00" font-size="8.90" textLength="4.51" lengthAdjust="spacingAndGlyphs" font-weight="normal" font-style="normal" fill="#231f20" stroke="#231f20" stroke-width="0.04" stroke-linejoin="round">4</text>
<text x="125.91" y="520.00" font-size="8.90" textLength="4.51" lengthAdjust="spacingAndGlyphs" font-weight="normal" font-style="normal" fill="#231f20" stroke="#231f20" stroke-width="0.04" stroke-linejoin="round">6</text>
<text x="163.77" y="520.00" font-size="8.90" textLength="19.36" lengthAdjust="spacingAndGlyphs" font-weight="normal" font-style="normal" fill="#231f20" stroke="#231f20" stroke-width="0.04" stroke-linejoin="round">Input</text>
<text x="194.75" y="520.00" font-size="8.90" textLength="4.51" lengthAdjust="spacingAndGlyphs" font-weight="normal" font-style="normal" fill="#231f20" stroke="#231f20" stroke-width="0.04" stroke-linejoin="round">2</text>
<text x="217.79" y="520.00" font-size="8.90" textLength="4.51" lengthAdjust="spacingAndGlyphs" font-weight="normal" font-style="normal" fill="#231f20" stroke="#231f20" stroke-width="0.04" stroke-linejoin="round">4</text>
<text x="240.61" y="520.00" font-size="8.90" textLength="4.51" lengthAdjust="spacingAndGlyphs" font-weight="normal" font-style="normal" fill="#231f20" stroke="#231f20" stroke-width="0.04" stroke-linejoin="round">6</text>
<text x="119.02" y="534.60" font-size="10.62" textLength="64.78" lengthAdjust="spacingAndGlyphs" font-weight="normal" font-style="normal" fill="#231f20" stroke="#231f20" stroke-width="0.15" stroke-linejoin="round">Months after BMT</text>
<text x="303.31" y="348.50" font-size="12.46" textLength="7.56" lengthAdjust="spacingAndGlyphs" font-weight="bold" font-style="normal" fill="#231f20" stroke="#231f20" stroke-width="0.5" stroke-linejoin="round">E</text>
<text x="352.09" y="356.30" font-size="10.29" textLength="73.66" lengthAdjust="spacingAndGlyphs" font-weight="normal" font-style="normal" fill="#231f20" stroke="#231f20" stroke-width="0.1" stroke-linejoin="round">Secondary BMT</text>
<line x1="351.80" y1="401.60" x2="351.80" y2="506.70" stroke="#141414" stroke-width="1.2"/>
<line x1="348.60" y1="506.20" x2="351.80" y2="506.20" stroke="#141414" stroke-width="1.1"/>
<text x="340.43" y="508.95" font-size="8.90" textLength="4.83" lengthAdjust="spacingAndGlyphs" font-weight="normal" font-style="normal" fill="#231f20" stroke="#231f20" stroke-width="0.1" stroke-linejoin="round">0</text>
<line x1="348.60" y1="485.88" x2="351.80" y2="485.88" stroke="#141414" stroke-width="1.1"/>
<text x="335.49" y="488.63" font-size="8.90" textLength="9.79" lengthAdjust="spacingAndGlyphs" font-weight="normal" font-style="normal" fill="#231f20" stroke="#231f20" stroke-width="0.1" stroke-linejoin="round">20</text>
<line x1="348.60" y1="465.56" x2="351.80" y2="465.56" stroke="#141414" stroke-width="1.1"/>
<text x="335.48" y="468.31" font-size="8.90" textLength="9.79" lengthAdjust="spacingAndGlyphs" font-weight="normal" font-style="normal" fill="#231f20" stroke="#231f20" stroke-width="0.1" stroke-linejoin="round">40</text>
<line x1="348.60" y1="445.24" x2="351.80" y2="445.24" stroke="#141414" stroke-width="1.1"/>
<text x="335.49" y="447.99" font-size="8.90" textLength="9.79" lengthAdjust="spacingAndGlyphs" font-weight="normal" font-style="normal" fill="#231f20" stroke="#231f20" stroke-width="0.1" stroke-linejoin="round">60</text>
<line x1="348.60" y1="424.92" x2="351.80" y2="424.92" stroke="#141414" stroke-width="1.1"/>
<text x="335.49" y="427.67" font-size="8.90" textLength="9.79" lengthAdjust="spacingAndGlyphs" font-weight="normal" font-style="normal" fill="#231f20" stroke="#231f20" stroke-width="0.1" stroke-linejoin="round">80</text>
<line x1="348.60" y1="404.60" x2="351.80" y2="404.60" stroke="#141414" stroke-width="1.1"/>
<text x="330.55" y="407.35" font-size="8.90" textLength="14.74" lengthAdjust="spacingAndGlyphs" font-weight="normal" font-style="normal" fill="#231f20" stroke="#231f20" stroke-width="0.1" stroke-linejoin="round">100</text>
<line x1="351.80" y1="506.10" x2="426.60" y2="506.10" stroke="#141414" stroke-width="1.2"/>
<rect x="357.80" y="406.60" width="25.30" height="99.40" fill="#2e4a7d"/>
<path d="M358.20,506.00 L358.20,407.00 L382.70,407.00 L382.70,506.00" fill="none" stroke="#223d72" stroke-width="0.8"/>
<rect x="395.40" y="406.60" width="25.50" height="99.40" fill="#a5002b"/>
<path d="M395.80,506.00 L395.80,407.00 L420.50,407.00 L420.50,506.00" fill="none" stroke="#970027" stroke-width="0.8"/>
<line x1="370.40" y1="405.70" x2="370.40" y2="406.60" stroke="#1a1a1a" stroke-width="1.1"/>
<line x1="364.20" y1="405.70" x2="376.60" y2="405.70" stroke="#1a1a1a" stroke-width="1.1"/>
<line x1="408.20" y1="405.70" x2="408.20" y2="406.60" stroke="#1a1a1a" stroke-width="1.1"/>
<line x1="401.90" y1="405.70" x2="414.50" y2="405.70" stroke="#1a1a1a" stroke-width="1.1"/>
<line x1="370.40" y1="506.10" x2="370.40" y2="509.50" stroke="#141414" stroke-width="1.0"/>
<line x1="408.00" y1="506.10" x2="408.00" y2="509.50" stroke="#141414" stroke-width="1.0"/>
<line x1="369.60" y1="401.50" x2="409.20" y2="401.50" stroke="#333" stroke-width="1.1"/>
<text x="384.44" y="399.20" font-size="8.50" textLength="9.36" lengthAdjust="spacingAndGlyphs" font-weight="normal" font-style="normal" fill="#231f20" stroke="#231f20" stroke-width="0.04" stroke-linejoin="round">ns</text>
<path d="M359.3,390.8 L359.3,387.5 L421.5,387.5 L421.5,390.8" fill="none" stroke="#333" stroke-width="1.1"/>
<text x="365.52" y="385.40" font-size="8.60" textLength="49.75" lengthAdjust="spacingAndGlyphs" font-weight="normal" font-style="normal" fill="#231f20" stroke="#231f20" stroke-width="0.04" stroke-linejoin="round">wt recipients</text>
<text transform="translate(312.30,481.46) rotate(-90)" x="-0.27" y="0" font-size="9.42" textLength="56.25" lengthAdjust="spacingAndGlyphs" font-weight="normal" font-style="normal" fill="#231f20" stroke="#231f20" stroke-width="0.08" stroke-linejoin="round">% G0/G1-phase</text>
<text transform="translate(325.00,462.96) rotate(-90)" x="-0.59" y="0" font-size="9.42" textLength="19.17" lengthAdjust="spacingAndGlyphs" font-weight="normal" font-style="normal" fill="#231f20" stroke="#231f20" stroke-width="0.08" stroke-linejoin="round">HSCs</text>
<text x="356.02" y="519.80" font-size="8.80" textLength="29.40" lengthAdjust="spacingAndGlyphs" font-weight="normal" font-style="normal" fill="#231f20" stroke="#231f20" stroke-width="0.04" stroke-linejoin="round">wt HSC</text>
<text x="391.89" y="519.80" font-size="8.80" textLength="32.43" lengthAdjust="spacingAndGlyphs" font-weight="normal" font-style="normal" fill="#231f20" stroke="#231f20" stroke-width="0.04" stroke-linejoin="round">th3 HSC</text>
<rect x="0.65" y="0.65" width="518.7" height="541.7" fill="none" stroke="#000" stroke-width="1.3"/>
</svg>
</body></html>
